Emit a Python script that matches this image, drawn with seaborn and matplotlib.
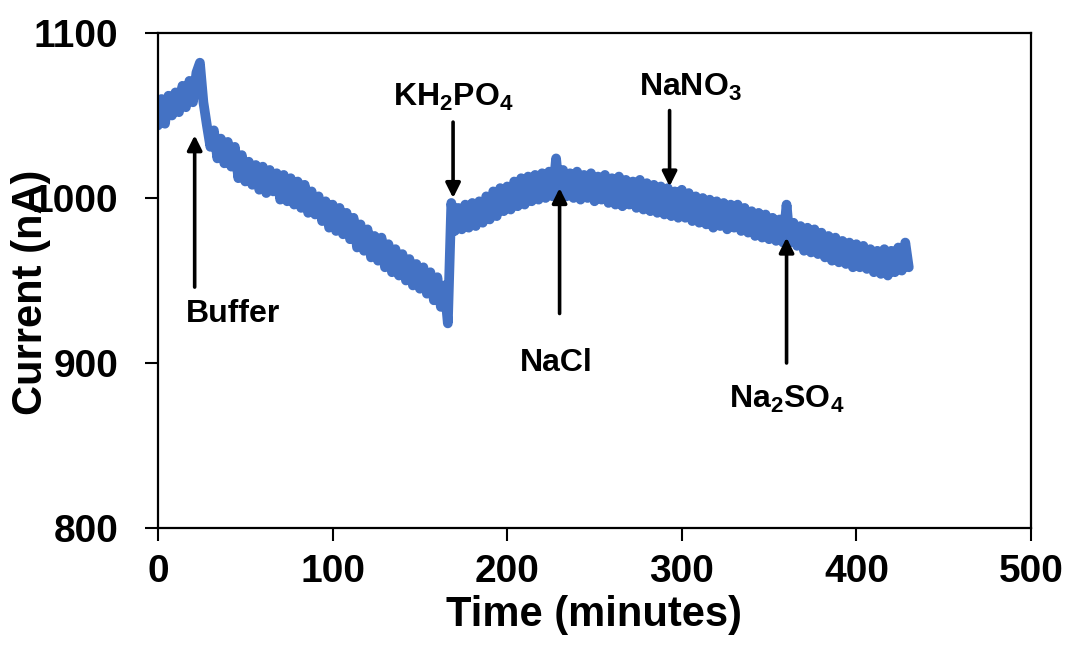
import pandas as pd
import matplotlib.pyplot as plt
import seaborn as sns

# ==========================================
# Data (every 2 minutes)
# ==========================================

time_min = list(range(0, 431, 2))

current_na = [
    # 0 - 24
    1044, 1060, 1045, 1062, 1050, 1064, 1052, 1068, 1055, 1071, 1058, 1076, 1082,
    # 26 - 28
    1058, 1044,
    # 30 - 50
    1031, 1041, 1024, 1036, 1021, 1034, 1019, 1031, 1012, 1026, 1010,
    # 52 - 74
    1022, 1008, 1020, 1005, 1019, 1003, 1017, 1004, 1015, 999, 1014, 998,
    # 76 - 100
    1012, 996, 1010, 994, 1008, 991, 1004, 990, 1001, 986, 998, 982, 996,
    # 102 - 124
    980, 994, 978, 991, 975, 988, 970, 984, 968, 981, 964, 977,
    # 126 - 150
    962, 976, 958, 972, 955, 969, 953, 966, 950, 963, 947, 960, 945,
    # 152 - 166
    958, 942, 955, 938, 952, 934, 947, 924,
    # 168 - 180
    997, 980, 994, 981, 996, 982, 997,
    # 182 - 200
    983, 998, 985, 1001, 987, 1004, 989, 1006, 992, 1007,
    # 202 - 230
    993, 1010, 995, 1012, 996, 1013, 998, 1014, 999, 1015, 1000, 1016, 1001, 1024, 1002,
    # 232 - 250
    1017, 1001, 1015, 1000, 1016, 999, 1014, 1000, 1015, 998,
    # 252 - 274
    1013, 999, 1014, 997, 1012, 996, 1013, 995, 1011, 996, 1010, 994,
    # 276 - 300
    1011, 993, 1009, 992, 1008, 991, 1007, 990, 1006, 989, 1004, 988, 1005,
    # 302 - 330
    988, 1003, 986, 1001, 985, 1000, 984, 999, 982, 998, 983, 997, 981, 996, 982,
    # 332 - 360
    996, 980, 994, 979, 992, 977, 991, 976, 990, 975, 988, 974, 987, 973, 996,
    # 362 - 400
    973, 985, 971, 983, 968, 982, 967, 981, 966, 979, 964, 977, 962, 976, 961, 974, 960, 973, 958, 972,
    # 402 - 430
    958, 971, 957, 969, 955, 968, 954, 969, 953, 968, 955, 970, 956, 973, 958,
]

assert len(time_min) == len(current_na)

# annotation labels with arrow positions (minutes / nA)
labels = ["Buffer", "KH$_2$PO$_4$", "NaCl", "NaNO$_3$", "Na$_2$SO$_4$"]
arrow_x = [21, 169, 230, 293, 360]
arrow_tail = [946, 1046, 930, 1053, 900]
arrow_tip = [1038, 1000, 1006, 1007, 976]
label_x = [43, 169, 228, 305, 360]
label_y = [930, 1061, 900, 1067, 878]

df = pd.DataFrame({"Time": time_min, "Current": current_na})

# ==========================================
# Style
# ==========================================

sns.set_style("ticks")
plt.rcParams["font.family"] = ["Liberation Sans", "DejaVu Sans"]
plt.rcParams["font.weight"] = "bold"
plt.rcParams["mathtext.default"] = "regular"
plt.rcParams["text.color"] = "black"
plt.rcParams["axes.labelcolor"] = "black"

fig = plt.figure(figsize=(10.7, 6.5), dpi=100)
ax = fig.add_axes([158 / 1070, 1 - 528 / 650, 873 / 1070, 495 / 650])

sns.lineplot(data=df, x="Time", y="Current", color="#4472C4",
             linewidth=7, ax=ax)

ax.set_xlim(0, 500)
ax.set_ylim(800, 1100)
ax.set_xticks([0, 100, 200, 300, 400, 500])
ax.set_yticks([800, 900, 1000, 1100])

for side in ["left", "right", "top", "bottom"]:
    ax.spines[side].set_visible(True)
    ax.spines[side].set_linewidth(1.6)
    ax.spines[side].set_color("black")

ax.tick_params(axis="both", direction="out", length=9.5, width=1.5,
               colors="black", labelsize=28)
ax.tick_params(axis="x", pad=9)
ax.tick_params(axis="y", pad=19)
for lab in ax.get_xticklabels() + ax.get_yticklabels():
    lab.set_fontweight("bold")

ax.set_xlabel("Time (minutes)", fontsize=30, fontweight="bold", color="black")
ax.set_ylabel("Current (nA)", fontsize=30, fontweight="bold", color="black")
ax.xaxis.set_label_coords(0.5, -0.135)
ax.yaxis.set_label_coords(-0.123, 0.477)

# ==========================================
# Arrows + labels
# ==========================================

for i in range(len(labels)):
    ax.annotate(
        "",
        xy=(arrow_x[i], arrow_tip[i]),
        xytext=(arrow_x[i], arrow_tail[i]),
        arrowprops=dict(arrowstyle="-|>", color="black", lw=2.6,
                        mutation_scale=22, shrinkA=0, shrinkB=0),
    )
    ax.text(label_x[i], label_y[i], labels[i], fontsize=23,
            fontweight="bold", ha="center", va="center", color="black")

plt.savefig("out.png", dpi=100)
